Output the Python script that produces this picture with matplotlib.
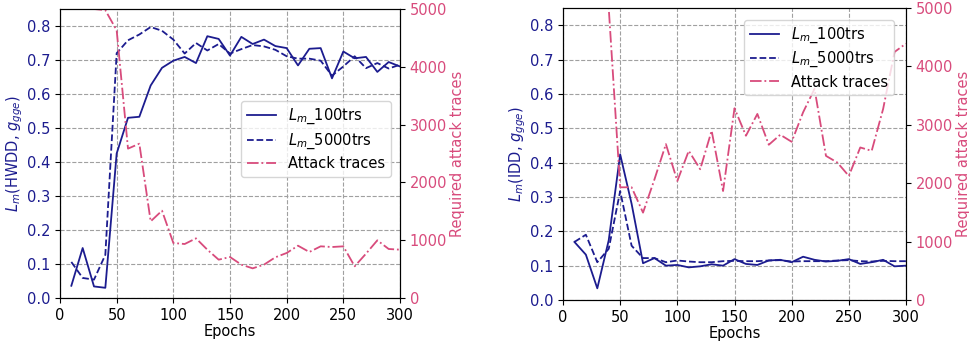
import matplotlib.pyplot as plt

# epochs (shared)
epochs = list(range(10, 310, 10))

# HWDD model
hwdd_100 = [0.036, 0.147, 0.034, 0.030, 0.425, 0.530, 0.533, 0.625, 0.677, 0.698,
            0.709, 0.691, 0.770, 0.762, 0.713, 0.768, 0.747, 0.760, 0.741, 0.735,
            0.684, 0.733, 0.735, 0.646, 0.725, 0.705, 0.709, 0.665, 0.694, 0.681]
hwdd_5000 = [0.106, 0.059, 0.054, 0.127, 0.720, 0.758, 0.775, 0.797, 0.786, 0.760,
             0.719, 0.750, 0.728, 0.747, 0.719, 0.732, 0.744, 0.740, 0.730, 0.711,
             0.704, 0.704, 0.698, 0.654, 0.681, 0.711, 0.676, 0.691, 0.675, 0.686]
hwdd_traces = [5000, 5000, 5000, 4980, 4631, 2584, 2670, 1326, 1511, 952,
               934, 1032, 836, 663, 709, 577, 513, 577, 704, 779,
               905, 796, 894, 882, 894, 548, 767, 998, 848, 836]

# IDD model
idd_100 = [0.169, 0.132, 0.034, 0.174, 0.424, 0.280, 0.107, 0.122, 0.100, 0.102,
           0.095, 0.098, 0.104, 0.100, 0.119, 0.105, 0.102, 0.115, 0.117, 0.110,
           0.126, 0.117, 0.112, 0.114, 0.119, 0.105, 0.110, 0.117, 0.098, 0.100]
idd_5000 = [0.169, 0.190, 0.110, 0.149, 0.317, 0.158, 0.122, 0.122, 0.110, 0.115,
            0.112, 0.110, 0.110, 0.113, 0.114, 0.113, 0.113, 0.115, 0.116, 0.112,
            0.113, 0.113, 0.113, 0.115, 0.116, 0.113, 0.112, 0.114, 0.113, 0.113]
idd_traces = [5000, 5000, 5000, 5000, 1930, 1930, 1496, 2066, 2669, 2038,
              2554, 2239, 2899, 1866, 3283, 2813, 3186, 2658, 2830, 2709,
              3214, 3616, 2468, 2353, 2124, 2612, 2554, 3272, 4248, 4391]

cor_lm = '#1c1c8f'
cor_att = '#d84b7c'
plt.rcParams['font.size'] = 10.5

fig = plt.figure(figsize=(9.7, 3.45), dpi=100)


def painel(rect, lm100, lm5000, traces, ylabel, legend_loc):
    ax1 = fig.add_axes(rect)
    ax1.plot(epochs, lm100, color=cor_lm, linewidth=1.3, label=r'$L_m$_100trs')
    ax1.plot(epochs, lm5000, color=cor_lm, linewidth=1.3, linestyle='--', label=r'$L_m$_5000trs')
    ax1.set_xlim(0, 300)
    ax1.set_ylim(0, 0.85)
    ax1.set_xticks(range(0, 301, 50))
    ax1.set_xlabel('Epochs', labelpad=1)
    ax1.set_ylabel(ylabel, color=cor_lm, labelpad=1)
    ax1.tick_params(axis='y', labelcolor=cor_lm)
    ax1.grid(linestyle='--', color='#a0a0a0', linewidth=0.8)

    ax2 = ax1.twinx()
    ax2.plot(epochs, traces, color=cor_att, linewidth=1.3, linestyle='-.', label='Attack traces')
    ax2.set_ylim(0, 5000)
    ax2.set_ylabel('Required attack traces', color=cor_att, labelpad=2)
    ax2.tick_params(axis='y', labelcolor=cor_att)

    lines, labels = ax1.get_legend_handles_labels()
    lines2, labels2 = ax2.get_legend_handles_labels()
    ax2.legend(lines + lines2, labels + labels2, labelspacing=0.35, **legend_loc)
    return ax1, ax2


painel([60 / 970, 47 / 345, 340 / 970, 289 / 345], hwdd_100, hwdd_5000, hwdd_traces,
       r'$L_m$(HWDD, $g_{gge}$)', dict(loc='center right', bbox_to_anchor=(0.995, 0.55)))
painel([563 / 970, 45 / 345, 343 / 970, 292 / 345], idd_100, idd_5000, idd_traces,
       r'$L_m$(IDD, $g_{gge}$)', dict(loc='upper right', bbox_to_anchor=(0.985, 0.985)))

plt.savefig('out.png', dpi=100)
